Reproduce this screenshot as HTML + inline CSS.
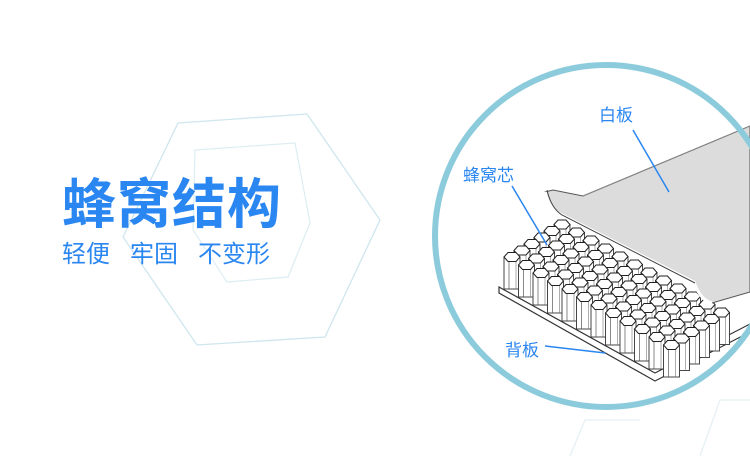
<!DOCTYPE html>
<html><head><meta charset="utf-8"><style>
html,body{margin:0;padding:0}
body{width:750px;height:456px;overflow:hidden;background:#fff;position:relative;font-family:"Liberation Sans","Noto Sans CJK SC",sans-serif}
svg{position:absolute;left:0;top:0}
.t{position:absolute;color:#2a86f0;white-space:nowrap}
</style></head><body>
<svg id="s" width="750" height="456" viewBox="0 0 750 456">
<polygon points="178,123 307,114 380,220 325,337 197,345 123,237" fill="none" stroke="#cfe6ee" stroke-width="1.3"/>
<polygon points="195,150 295,143 310,223 288,277 227,282 193,230" fill="none" stroke="#dcedf3" stroke-width="1.2"/>
<polyline points="570,456 585,420 640,420" fill="none" stroke="#e3f0f4" stroke-width="1.2"/>
<polyline points="700,456 720,400 750,400" fill="none" stroke="#e3f0f4" stroke-width="1.2"/>
<polygon points="499,287 655,373 750,324 750,332 655,381 499,293" fill="#fff" stroke="#333" stroke-width="1.2"/>
<g id="grid"></g>
<path d="M545,192 L553,190 L583,196 L750,126 L750,292 L712,303 Q700,300 694,282 L560,214 Q548,207 545,192 Z" fill="#dcdcdc" stroke="#555" stroke-width="1"/>
<path d="M545,192 Q548,207 560,214 L694,282 Q700,300 712,303" fill="none" stroke="#fff" stroke-width="3"/>
<path d="M547,190 Q551,208 562,215 L695,283" fill="none" stroke="#444" stroke-width="1"/>
<line x1="583" y1="196" x2="750" y2="126" stroke="#888" stroke-width="1"/>
<circle cx="606" cy="236" r="171" fill="none" stroke="#8ccbdc" stroke-width="6"/>
<line x1="633" y1="130" x2="669" y2="192" stroke="#2a86f0" stroke-width="1.5"/>
<line x1="512" y1="186" x2="547" y2="245" stroke="#2a86f0" stroke-width="1.5"/>
<line x1="545" y1="346" x2="605" y2="353" stroke="#2a86f0" stroke-width="1.5"/>
</svg>
<div class="t" style="left:62px;top:160px;font-size:54px;font-weight:bold;letter-spacing:1px">蜂窝结构</div>
<div class="t" style="left:62px;top:234px;font-size:24px">轻便&nbsp;&nbsp;&nbsp;牢固&nbsp;&nbsp;&nbsp;不变形</div>
<div class="t" style="left:599px;top:101px;font-size:17px">白板</div>
<div class="t" style="left:463px;top:161px;font-size:17px">蜂窝芯</div>
<div class="t" style="left:505px;top:336px;font-size:17px">背板</div>
<script>
var g=document.getElementById('grid'),h='';
for(var j=5;j>=0;j--){for(var i=0;i<12;i++){
 var cx=512+14.5*i+10*j, cy=257+8*i-6.5*j;
 if(cx>745)continue;
 var w=8,hh=4.5,H=32;
 h+='<rect x="'+(cx-w)+'" y="'+cy+'" width="'+(2*w)+'" height="'+H+'" fill="#fff" stroke="#333" stroke-width="0.9"/>';
 h+='<line x1="'+(cx-3)+'" y1="'+(cy+4)+'" x2="'+(cx-3)+'" y2="'+(cy+H)+'" stroke="#555" stroke-width="0.7"/>';
 h+='<line x1="'+(cx+4)+'" y1="'+(cy+4)+'" x2="'+(cx+4)+'" y2="'+(cy+H)+'" stroke="#777" stroke-width="0.6"/>';
 h+='<polygon points="'+(cx-w)+','+cy+' '+(cx-4)+','+(cy-hh)+' '+(cx+4)+','+(cy-hh)+' '+(cx+w)+','+cy+' '+(cx+4)+','+(cy+hh)+' '+(cx-4)+','+(cy+hh)+'" fill="#fff" stroke="#222" stroke-width="1"/>';
}}
g.innerHTML=h;
</script>
</body></html>
